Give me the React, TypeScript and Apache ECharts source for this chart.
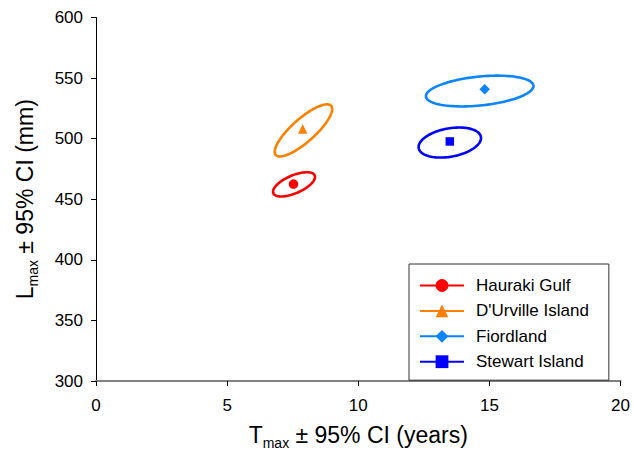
import React, { useEffect, useRef } from "react";
import * as echarts from "echarts";

// Site names
const sites = ["Hauraki Gulf", "D'Urville Island", "Fiordland", "Stewart Island"];
const colors = ["#ff0000", "#ff8000", "#0a84ff", "#0000ff"];
const symbols = ["circle", "triangle", "diamond", "rect"];

// Point estimates: Tmax (years), Lmax (mm)
const tmax = [7.53, 7.88, 14.82, 13.49];
const lmax = [462.5, 508, 540.7, 497.7];

// 95% CI ellipses: centre, half-widths and correlation
const ciCentreT = [7.55, 7.91, 14.63, 13.49];
const ciCentreL = [462.3, 506.8, 539.3, 496.8];
const ciHalfT = [0.8, 1.095, 2.05, 1.19];
const ciHalfL = [10.0, 21.5, 12.7, 12.4];
const ciRho = [0.61, 0.82, 0.33, 0.3];

// Axis ticks
const xTicks = [0, 5, 10, 15, 20];
const yTicks = [300, 350, 400, 450, 500, 550, 600];

const FONT = "'Liberation Sans', Arial, sans-serif";

export default function App() {
  const ref = useRef<HTMLDivElement>(null);
  useEffect(() => {
    if (!ref.current) return;
    const chart = echarts.init(ref.current, null, { renderer: "svg" });

    const lineSeries = sites.map((name, i) => ({
      name,
      type: "line",
      z: 4,
      data: [[tmax[i], lmax[i]]],
      symbol: symbols[i],
      symbolSize: symbols[i] === "rect" ? 8.5 : symbols[i] === "diamond" ? 10.5 : 9.5,
      showSymbol: true,
      itemStyle: { color: colors[i] },
      lineStyle: { color: colors[i], width: 2 },
      silent: true,
    }));

    const ellipseSeries = sites.map((name, i) => ({
      name,
      type: "custom",
      z: 2,
      silent: true,
      data: [[ciCentreT[i], ciCentreL[i], ciHalfT[i], ciHalfL[i], ciRho[i]]],
      renderItem: (params: any, api: any) => {
        const cx = api.value(0);
        const cy = api.value(1);
        const hx = api.value(2);
        const hy = api.value(3);
        const r = api.value(4);
        const s = Math.sqrt(1 - r * r);
        const pts: number[][] = [];
        const n = 120;
        for (let k = 0; k < n; k++) {
          const t = (k / n) * Math.PI * 2;
          pts.push(
            api.coord([cx + hx * Math.cos(t), cy + hy * (r * Math.cos(t) + s * Math.sin(t))])
          );
        }
        return {
          type: "polygon",
          shape: { points: pts },
          style: { fill: "none", stroke: colors[i], lineWidth: 2.6 },
        };
      },
    }));

    const titleRich = {
      a: { fontSize: 23, color: "#000", fontFamily: FONT, lineHeight: 30, verticalAlign: "middle" },
      sub: { fontSize: 14, color: "#000", fontFamily: FONT, lineHeight: 14, verticalAlign: "bottom" },
    };

    chart.setOption({
      animation: false,
      backgroundColor: "#ffffff",
      textStyle: { fontFamily: FONT },
      grid: { left: 96, right: 10.4, top: 17.5, bottom: 70.5, containLabel: false },
      xAxis: {
        type: "value",
        min: xTicks[0],
        max: xTicks[xTicks.length - 1],
        interval: xTicks[1] - xTicks[0],
        splitLine: { show: false },
        axisLine: { lineStyle: { color: "#808080", width: 2 } },
        axisTick: { show: true, length: 5, lineStyle: { color: "#000", width: 1 } },
        axisLabel: { color: "#000", fontSize: 17, fontFamily: FONT, margin: 16 },
        name: "{a|T}{sub|max}{a| ± 95% CI (years)}",
        nameLocation: "middle",
        nameGap: 39,
        nameTextStyle: { rich: titleRich },
      },
      yAxis: {
        type: "value",
        min: yTicks[0],
        max: yTicks[yTicks.length - 1],
        interval: yTicks[1] - yTicks[0],
        splitLine: { show: false },
        axisLine: { show: true, lineStyle: { color: "#000", width: 1 } },
        axisTick: { show: true, length: 5, lineStyle: { color: "#000", width: 1 } },
        axisLabel: { color: "#000", fontSize: 17, fontFamily: FONT, margin: 13 },
        name: "{a|L}{sub|max}{a| ± 95% CI (mm)}",
        nameLocation: "middle",
        nameGap: 56,
        nameTextStyle: { rich: titleRich },
      },
      legend: {
        orient: "vertical",
        left: 409,
        top: 264,
        data: sites,
        padding: [13, 20, 10, 10],
        borderColor: "#333",
        borderWidth: 1,
        itemWidth: 44,
        itemHeight: 16,
        itemGap: 8.4,
        selectedMode: false,
        textStyle: { fontSize: 17, color: "#000", fontFamily: FONT, lineHeight: 16, padding: [0, 0, 0, 7] },
      },
      series: [...lineSeries, ...ellipseSeries],
    });
    return () => chart.dispose();
  }, []);
  return (
    <div
      ref={ref}
      style={{ position: "fixed", left: 0, top: 0, width: 633, height: 455, background: "#fff" }}
    />
  );
}
